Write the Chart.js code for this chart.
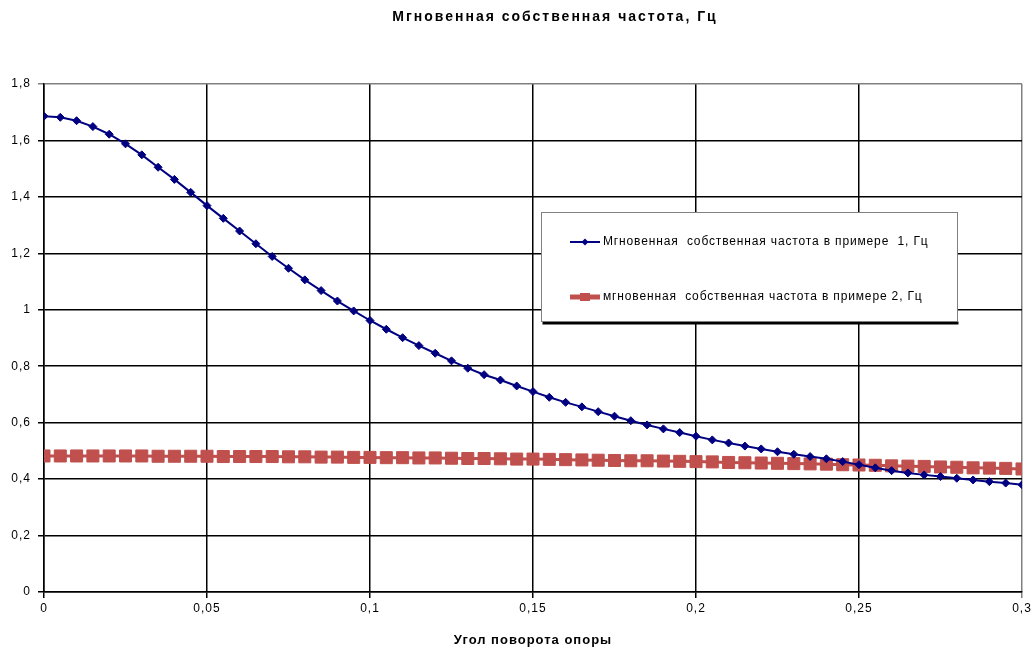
<!DOCTYPE html>
<html><head><meta charset="utf-8">
<script src="https://cdn.jsdelivr.net/npm/chart.js@4"></script>
<style>html,body{margin:0;padding:0;background:#fff}#wrap{width:1034px;height:651px;position:relative}canvas{display:block}</style>
</head><body><div id="wrap"><canvas id="c" width="1034" height="651"></canvas></div>
<script>
const chartTitle = 'Мгновенная собственная частота, Гц';
const xAxisTitle = 'Угол поворота опоры';
const seriesNames = ['Мгновенная  собственная частота в примере  1, Гц', 'мгновенная  собственная частота в примере 2, Гц'];
const angles = [0,0.005,0.01,0.015,0.02,0.025,0.03,0.035,0.04,0.045,0.05,0.055,0.06,0.065,0.07,0.075,0.08,0.085,0.09,0.095,0.1,0.105,0.11,0.115,0.12,0.125,0.13,0.135,0.14,0.145,0.15,0.155,0.16,0.165,0.17,0.175,0.18,0.185,0.19,0.195,0.2,0.205,0.21,0.215,0.22,0.225,0.23,0.235,0.24,0.245,0.25,0.255,0.26,0.265,0.27,0.275,0.28,0.285,0.29,0.295,0.3];
const freq1 = [1.686,1.682,1.670,1.649,1.622,1.588,1.549,1.505,1.462,1.416,1.369,1.324,1.279,1.234,1.189,1.147,1.106,1.068,1.031,0.996,0.962,0.931,0.901,0.873,0.846,0.819,0.793,0.770,0.751,0.730,0.710,0.690,0.672,0.656,0.639,0.623,0.607,0.592,0.578,0.565,0.552,0.539,0.528,0.517,0.507,0.497,0.488,0.480,0.472,0.462,0.451,0.440,0.430,0.422,0.415,0.409,0.403,0.397,0.391,0.386,0.380];
const freq2 = [0.482,0.482,0.482,0.482,0.482,0.482,0.482,0.481,0.481,0.481,0.481,0.480,0.480,0.480,0.480,0.479,0.479,0.478,0.478,0.477,0.477,0.476,0.476,0.475,0.475,0.474,0.473,0.473,0.472,0.471,0.471,0.470,0.469,0.468,0.467,0.466,0.465,0.465,0.464,0.463,0.462,0.461,0.459,0.458,0.457,0.456,0.455,0.454,0.453,0.451,0.450,0.449,0.447,0.446,0.445,0.443,0.442,0.440,0.439,0.438,0.436];
const xTickLabels = ['0','0,05','0,1','0,15','0,2','0,25','0,3'];
const yTickLabels = ['0','0,2','0,4','0,6','0,8','1','1,2','1,4','1,6','1,8'];

const FONT = '"Liberation Sans", Arial, sans-serif';
const BLUE = '#000080', RED = '#C0504D';

const decor = {
  id: 'decor',
  beforeDraw(chart) {
    chart.ctx.letterSpacing = '1px';
  },
  afterDatasetsDraw(chart) {
    const ctx = chart.ctx;
    ctx.save();
    // title
    ctx.fillStyle = '#000';
    ctx.font = 'bold 14px ' + FONT;
    ctx.letterSpacing = '2px';
    ctx.textAlign = 'center';
    ctx.textBaseline = 'middle';
    ctx.fillText(chartTitle, 555, 17);
    // legend box
    const bx = 541.5, by = 212.5, bw = 416, bh = 109;
    ctx.fillStyle = '#000';
    ctx.fillRect(bx + 1, by + bh, bw, 3);
    ctx.fillStyle = '#fff';
    ctx.fillRect(bx, by, bw, bh);
    ctx.strokeStyle = '#808080';
    ctx.lineWidth = 1;
    ctx.strokeRect(bx, by, bw, bh);
    chart.data.datasets.forEach((d, i) => {
      const y = i === 0 ? 242 : 297;
      ctx.strokeStyle = d.borderColor;
      ctx.lineWidth = i === 0 ? 2 : 5;
      ctx.beginPath(); ctx.moveTo(570, y); ctx.lineTo(600, y); ctx.stroke();
      ctx.fillStyle = d.pointBackgroundColor;
      ctx.beginPath();
      if (d.pointStyle === 'rectRot') {
        const r = 3.5;
        ctx.moveTo(585 - r, y); ctx.lineTo(585, y - r); ctx.lineTo(585 + r, y); ctx.lineTo(585, y + r); ctx.closePath();
      } else {
        ctx.rect(585 - 5, y - 4, 10, 8);
      }
      ctx.fill();
      ctx.fillStyle = '#000';
      ctx.font = '12px ' + FONT;
      ctx.letterSpacing = '0.85px';
      ctx.textAlign = 'left';
      ctx.textBaseline = 'middle';
      ctx.fillText(d.label, 603, y);
    });
    ctx.restore();
  }
};

const gridColor = (edgeVal) => (c) => (c.tick && Math.abs(c.tick.value - edgeVal) < 1e-9) ? '#808080' : '#000';

new Chart(document.getElementById('c'), {
  type: 'line',
  data: {
    datasets: [
      {
        label: seriesNames[0],
        data: angles.map((a, i) => ({x: a, y: freq1[i]})),
        borderColor: BLUE, backgroundColor: BLUE,
        pointBackgroundColor: BLUE, pointBorderColor: BLUE,
        borderWidth: 2, pointStyle: 'rectRot', pointRadius: 4, pointBorderWidth: 1,
        tension: 0, fill: false
      },
      {
        label: seriesNames[1],
        data: angles.map((a, i) => ({x: a, y: freq2[i]})),
        borderColor: RED, backgroundColor: RED,
        pointBackgroundColor: RED, pointBorderColor: RED,
        borderWidth: 3, pointStyle: 'rect', pointRadius: 8.5, pointBorderWidth: 1,
        tension: 0, fill: false
      }
    ]
  },
  options: {
    responsive: false, animation: false, devicePixelRatio: 1,
    layout: {padding: {top: 84, right: 12, bottom: 0, left: 0}},
    plugins: {legend: {display: false}, title: {display: false}, tooltip: {enabled: false}},
    scales: {
      x: {
        type: 'linear', min: 0, max: 0.3,
        afterFit: (s) => { s.height = 59; },
        ticks: {stepSize: 0.05, autoSkip: false, maxRotation: 0, padding: 3, color: '#000',
          font: {family: FONT, size: 12},
          callback: (v, i) => xTickLabels[i]},
        grid: {color: gridColor(0.3), lineWidth: 1.5, tickLength: 6, drawTicks: true},
        border: {color: '#000', width: 1.5},
        title: {display: true, text: xAxisTitle, color: '#000', font: {family: FONT, size: 13, weight: 'bold'}, padding: {top: 0, bottom: 3}}
      },
      y: {
        min: 0, max: 1.8,
        afterFit: (s) => { s.width = 44; },
        ticks: {stepSize: 0.2, autoSkip: false, padding: 7, color: '#000',
          font: {family: FONT, size: 12},
          callback: (v, i) => yTickLabels[i]},
        grid: {color: gridColor(1.8), lineWidth: 1.5, tickLength: 6, drawTicks: true},
        border: {color: '#000', width: 1.5}
      }
    }
  },
  plugins: [decor]
});
</script>
</body></html>
